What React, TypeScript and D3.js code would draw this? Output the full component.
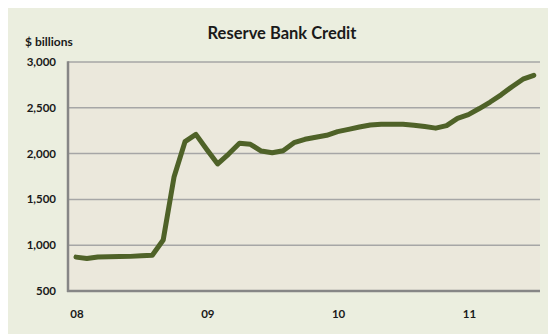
import React from "react";
import * as d3 from "d3";

const monthIndex: number[] = [
  0, 1, 2, 3, 4, 5, 6, 7, 8, 9, 10, 11, 12, 13, 14, 15, 16, 17, 18, 19, 20, 21,
  22, 23, 24, 25, 26, 27, 28, 29, 30, 31, 32, 33, 34, 35, 36, 37, 38, 39, 40, 41, 42,
];
const credit: number[] = [
  870, 855, 872, 875, 876, 878, 885, 890, 1057, 1748, 2130, 2210, 2045, 1887,
  1995, 2112, 2101, 2028, 2010, 2032, 2119, 2156, 2178, 2200, 2240, 2265, 2290,
  2312, 2320, 2320, 2320, 2310, 2295, 2278, 2305, 2385, 2425, 2492, 2563, 2642,
  2730, 2812, 2855,
];
const yTicks: number[] = [500, 1000, 1500, 2000, 2500, 3000];
const xTickMonths: number[] = [0, 12, 24, 36];
const xTickLabels: string[] = ["08", "09", "10", "11"];

const W = 548;
const H = 335;
const plotL = 68;
const plotR = 540;
const plotT = 62;
const plotB = 291;
const FONT = "Lato, 'Open Sans', sans-serif";

export default function App() {
  const x = d3.scaleLinear().domain([0, 12]).range([76, 206.8]);
  const y = d3.scaleLinear().domain([500, 3000]).range([plotB, plotT]);
  const line = d3
    .line<number>()
    .x((_, i) => x(monthIndex[i]))
    .y((d) => y(d));
  const fmt = d3.format(",");

  return (
    <svg
      width={W}
      height={H}
      style={{ position: "absolute", left: 0, top: 0, display: "block" }}
    >
      <rect x={0} y={0} width={W} height={H} fill="#ffffff" />
      <rect x={8} y={8} width={W - 8} height={H - 9} fill="#ebeedf" />
      <rect
        x={plotL}
        y={plotT}
        width={plotR - plotL}
        height={plotB - plotT}
        fill="#ebe8dc"
      />
      {yTicks.map((t) => (
        <line
          key={"g" + t}
          x1={plotL}
          x2={plotR}
          y1={y(t)}
          y2={y(t)}
          stroke="#a6a6a6"
          strokeWidth={1.5}
        />
      ))}
      <line x1={plotL} x2={plotL} y1={plotT - 0.75} y2={plotB + 1} stroke="#868686" strokeWidth={2.5} />
      <line x1={plotL - 1} x2={plotR} y1={plotB} y2={plotB} stroke="#868686" strokeWidth={2.5} />
      <path
        d={line(credit) ?? ""}
        fill="none"
        stroke="#4f6228"
        strokeWidth={5}
        strokeLinejoin="round"
        strokeLinecap="round"
      />
      {yTicks.map((t) => (
        <text
          key={"l" + t}
          x={56}
          y={y(t)}
          dy="0.35em"
          textAnchor="end"
          fontFamily={FONT}
          fontWeight="bold"
          fontSize={11.5}
          fill="#1a1a1a"
        >
          {fmt(t)}
        </text>
      ))}
      {xTickMonths.map((m, i) => (
        <text
          key={"x" + m}
          x={x(m) + 1}
          y={314}
          dy="0.35em"
          textAnchor="middle"
          fontFamily={FONT}
          fontWeight="bold"
          fontSize={11.5}
          fill="#1a1a1a"
        >
          {xTickLabels[i]}
        </text>
      ))}
      <text
        x={25}
        y={42}
        dy="0.35em"
        fontFamily={FONT}
        fontWeight="bold"
        fontSize={12}
        fill="#1a1a1a"
      >
        $ billions
      </text>
      <text
        x={282}
        y={33}
        dy="0.35em"
        textAnchor="middle"
        fontFamily={FONT}
        fontWeight="bold"
        fontSize={16.5}
        fill="#1a1a1a"
      >
        Reserve Bank Credit
      </text>
    </svg>
  );
}
